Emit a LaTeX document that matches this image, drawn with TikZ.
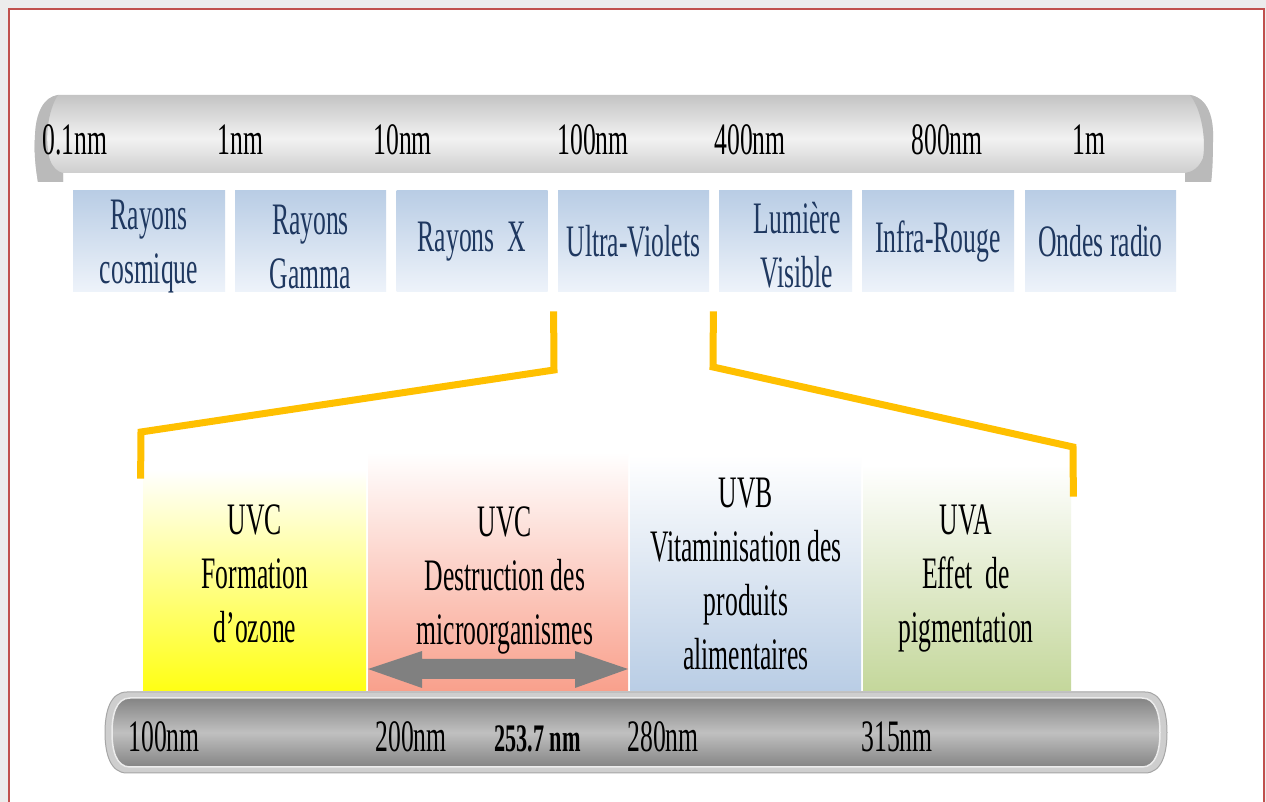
\documentclass[tikz,border=0pt]{standalone}
\usepackage{fontspec}
\setmainfont{Liberation Serif}[FakeStretch=0.57]
\definecolor{frameRed}{RGB}{192,80,77}
\definecolor{frameGray}{RGB}{236,236,236}
\definecolor{skyTop}{RGB}{185,205,229}
\definecolor{skyBot}{RGB}{238,243,250}
\definecolor{navyText}{RGB}{31,56,96}
\definecolor{bracketGold}{RGB}{255,192,0}
\definecolor{uvcYellow}{RGB}{255,255,20}
\definecolor{uvcSalmon}{RGB}{249,160,140}
\definecolor{uvbBlue}{RGB}{185,205,229}
\definecolor{uvaGreen}{RGB}{196,215,155}
\definecolor{arrowGray}{RGB}{128,128,128}
\definecolor{barLight}{RGB}{242,242,242}
\definecolor{barEdge}{RGB}{196,196,196}
\definecolor{barCurl}{RGB}{186,186,186}
\definecolor{railDark}{RGB}{132,132,132}
\definecolor{railMid}{RGB}{192,192,192}
\definecolor{railRim}{RGB}{206,206,206}
\newcommand{\pxu}{0.5pt}
\newcommand{\bigtext}{\fontsize{22.5}{27}\selectfont}
\tikzset{
  bandbox/.style={shade, top color=skyTop, bottom color=skyBot, text=navyText,
    font=\bigtext, align=center, inner sep=0pt, minimum height=101*\pxu},
  bandtext/.style={font=\bigtext, align=center, inner sep=0pt, text=navyText},
  uvbox/.style={shade, top color=white, inner sep=0pt},
  uvtext/.style={font=\bigtext, align=center, inner sep=0pt},
  scalelabel/.style={font=\bigtext, anchor=base west, inner sep=0pt},
  bracket/.style={draw=bracketGold, line width=7*\pxu},
}
\begin{document}
\begin{tikzpicture}[x=0.5pt,y=-0.5pt]
\useasboundingbox (0,0) rectangle (1266,802);
% frame
\fill[frameGray] (0,0) rectangle (1266,802);
\fill[white] (9,9) rectangle (1264,802);
\draw[frameRed, line width=1.5*\pxu] (9,802) -- (9,9) -- (1264,9) -- (1264,802);
% upper scale bar
\shade[top color=barEdge, bottom color=barEdge, middle color=barLight]
  (58,95) -- (1190,95) .. controls (1208,98) and (1214,118) .. (1213,140)
  .. controls (1213,160) and (1212,175) .. (1211,182) -- (1185,182) -- (1185,173)
  -- (63,173) -- (63,182) -- (38,182) .. controls (35,165) and (34,150) .. (35,135)
  .. controls (36,112) and (44,97) .. (58,95) -- cycle;
\fill[barCurl] (63,173) -- (63,182) -- (38,182) .. controls (35,165) and (34,150) .. (35,135)
  .. controls (36,112) and (44,97) .. (58,95) .. controls (48,110) and (44,140) .. (50,160)
  .. controls (53,168) and (58,172) .. (63,173) -- cycle;
\fill[barCurl] (1185,173) -- (1185,182) -- (1211,182) .. controls (1212,175) and (1213,160) .. (1213,140)
  .. controls (1214,118) and (1208,98) .. (1190,95) .. controls (1202,110) and (1206,140) .. (1203,158)
  .. controls (1199,168) and (1192,172) .. (1185,173) -- cycle;
\node[scalelabel] (w01) at (42,155) {0.1nm};
\node[scalelabel] (w1) at (217,155) {1nm};
\node[scalelabel] (w10) at (373,155) {10nm};
\node[scalelabel] (w100) at (557,155) {100nm};
\node[scalelabel] (w400) at (714,155) {400nm};
\node[scalelabel] (w800) at (911,155) {800nm};
\node[scalelabel] (w1m) at (1072,155) {1m};
% spectrum bands
\node[bandbox, minimum width=152*\pxu] (cosmic) at (149,241.5) {};
\node[bandtext] (cosmicTxt) at (149,247) {Rayons\\cosmique};
\node[bandbox, minimum width=151*\pxu] (gamma) at (310.5,241.5) {};
\node[bandtext] (gammaTxt) at (310.5,247) {Rayons\\Gamma};
\node[bandbox, minimum width=151*\pxu] (xray) at (472,241.5) {Rayons~ X};
\node[bandbox, minimum width=151*\pxu] (uv) at (633.5,241.5) {Ultra-Violets};
\node[bandbox, minimum width=133*\pxu] (visible) at (785.5,241.5) {};
\node[bandtext] (visibleTxt) at (797,245.5) {Lumière\\Visible};
\node[bandbox, minimum width=152*\pxu] (infrared) at (938,241.5) {Infra-Rouge};
\node[bandbox, minimum width=151*\pxu] (radio) at (1100.5,241.5) {Ondes radio};
% UV sub-bands
\node[uvbox, bottom color=uvcYellow, minimum width=223*\pxu, minimum height=221*\pxu] (ozoneBox) at (254.5,580.5) {};
\node[uvbox, bottom color=uvcSalmon, minimum width=260*\pxu, minimum height=239*\pxu] (germBox) at (498,571.5) {};
\node[uvbox, bottom color=uvbBlue, minimum width=231*\pxu, minimum height=236*\pxu] (vitaminBox) at (745.5,573) {};
\node[uvbox, bottom color=uvaGreen, minimum width=208*\pxu, minimum height=226*\pxu] (pigmentBox) at (967,578) {};
\node[uvtext] (ozone) at (255,574) {UVC\\Formation\\d’ozone};
\node[uvtext] (germ) at (505,580) {UVC\\Destruction des\\microorganismes};
\node[uvtext] (vitamin) at (746,574) {UVB\\Vitaminisation des\\produits\\alimentaires};
\node[uvtext] (pigment) at (966,579) {UVA\\Effet~ de\\pigmentation};
% germicidal range
\fill[arrowGray] (368,669) -- (422,651) -- (422,659) -- (575,659) -- (575,651) -- (628,669)
  -- (575,688) -- (575,679) -- (422,679) -- (422,688) -- cycle;
% zoom brackets
\coordinate (uvL) at ([xshift=-2pt,yshift=-9.5pt]uv.south west);
\coordinate (uvR) at ([xshift=2pt,yshift=-9.5pt]uv.south east);
\coordinate (kneeUL) at (554,370);
\coordinate (kneeBL) at (141,432);
\coordinate (kneeUR) at (713,367);
\coordinate (kneeBR) at (1073,447);
\coordinate (endL) at ([xshift=-1pt,yshift=-4.5pt]ozoneBox.north west);
\coordinate (endR) at ([xshift=1pt,yshift=-16pt]pigmentBox.north east);
\draw[bracket] (uvL) -- (kneeUL) -- (kneeBL) -- (endL);
\draw[bracket] (uvR) -- (kneeUR) -- (kneeBR) -- (endR);
% lower scale bar
\fill[railRim, draw=gray!70, line width=1*\pxu]
  (127,692) -- (1145,692) .. controls (1162,692) and (1167,712) .. (1167,732.5)
  .. controls (1167,753) and (1162,773) .. (1145,773) -- (127,773)
  .. controls (110,773) and (105,753) .. (105,732.5) .. controls (105,712) and (110,692) .. (127,692) -- cycle;
\shade[top color=railDark, bottom color=railDark, middle color=railMid, draw=white!85!gray, line width=1.5*\pxu]
  (130,698) -- (1142,698) .. controls (1156,698) and (1160,715) .. (1160,732.5)
  .. controls (1160,750) and (1156,767) .. (1142,767) -- (130,767)
  .. controls (116,767) and (112,750) .. (112,732.5) .. controls (112,715) and (116,698) .. (130,698) -- cycle;
\node[scalelabel] (u100) at (128,752) {100nm};
\node[scalelabel] (u200) at (375,752) {200nm};
\node[scalelabel, font=\fontsize{19.5}{23}\selectfont\bfseries] (u253) at (494,752) {253.7 nm};
\node[scalelabel] (u280) at (627,752) {280nm};
\node[scalelabel] (u315) at (861,752) {315nm};
\end{tikzpicture}
\end{document}
